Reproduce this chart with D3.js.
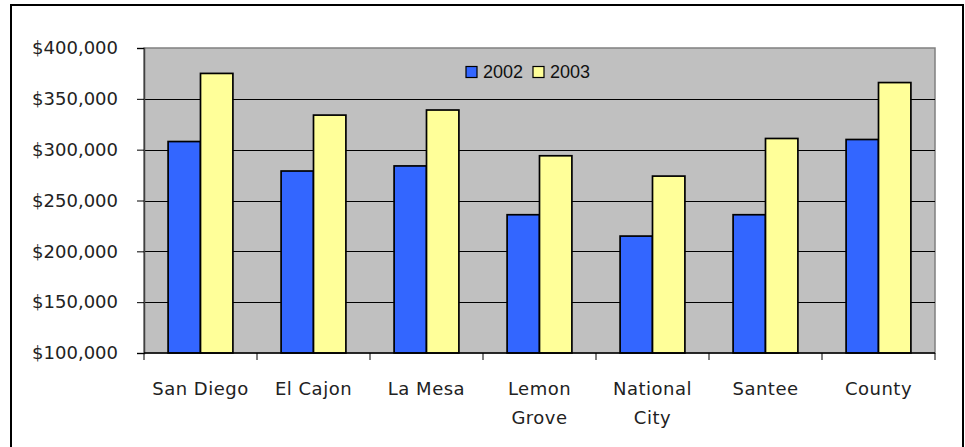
<!DOCTYPE html>
<html><head><meta charset="utf-8">
<script src="https://cdn.jsdelivr.net/npm/d3@7"></script>
<style>body{margin:0;background:#fff}svg{display:block}</style>
</head><body>
<svg id="c" width="965" height="447"></svg>
<script>
const categories = [["San Diego"],["El Cajon"],["La Mesa"],["Lemon","Grove"],["National","City"],["Santee"],["County"]];
const series = ["2002","2003"];
const values2002 = [308000,279000,284000,236000,215000,236000,310000];
const values2003 = [375000,334000,339000,294000,274000,311000,366000];
const yTicks = [100000,150000,200000,250000,300000,350000,400000];
const colors = ["#3366ff","#ffff99"];

const svg = d3.select("#c");
const L=144, R=935, T=48, B=353;
svg.append("rect").attr("x",11).attr("y",5).attr("width",952).attr("height",445)
  .attr("fill","#fff").attr("stroke","#000").attr("stroke-width",2);

const x = d3.scaleBand().domain(d3.range(categories.length)).range([L,R]).padding(0);
const y = d3.scaleLinear().domain([100000,400000]).range([B,T]);

svg.append("rect").attr("x",L).attr("y",T).attr("width",R-L).attr("height",B-T)
  .attr("fill","#c0c0c0").attr("stroke","#808080").attr("stroke-width",1.5);

svg.append("g").selectAll("line").data(yTicks.slice(1,-1)).join("line")
  .attr("x1",L).attr("x2",R).attr("y1",d=>Math.round(y(d))+0.5).attr("y2",d=>Math.round(y(d))+0.5)
  .attr("stroke","#000").attr("stroke-width",1);

const bw = 32.4;
const data = [values2002, values2003];
data.forEach((vals,si)=>{
  svg.append("g").selectAll("rect").data(vals).join("rect")
    .attr("x",(d,i)=>x(i)+x.bandwidth()/2 + (si-1)*bw)
    .attr("y",d=>y(d)).attr("width",bw).attr("height",d=>B-y(d))
    .attr("fill",colors[si]).attr("stroke","#000").attr("stroke-width",1.7);
});

// y axis
const ya = svg.append("g").attr("transform",`translate(${L},0)`)
  .call(d3.axisLeft(y).tickValues(yTicks).tickSize(7).tickPadding(19).tickFormat(d=>"$"+d3.format(",")(d)));
ya.select(".domain").attr("stroke","#404040").attr("stroke-width",1.5);
ya.selectAll(".tick line").attr("stroke","#000");
ya.selectAll("text").attr("font-family","DejaVu Sans").attr("font-size",18).attr("fill","#222");

// x axis
const xa = svg.append("g").attr("transform",`translate(0,${B})`);
xa.append("line").attr("x1",L).attr("x2",R).attr("y1",0).attr("y2",0).attr("stroke","#000").attr("stroke-width",1.5);
xa.selectAll("line.t").data(d3.range(categories.length+1)).join("line").attr("class","t")
  .attr("x1",i=>L+i*x.bandwidth()).attr("x2",i=>L+i*x.bandwidth()).attr("y1",0).attr("y2",7)
  .attr("stroke","#000");
const lab = xa.selectAll("text").data(categories).join("text")
  .attr("x",(d,i)=>x(i)+x.bandwidth()/2).attr("y",42)
  .attr("text-anchor","middle").attr("font-family","DejaVu Sans").attr("font-size",18)
  .attr("letter-spacing",0.5).attr("fill","#222");
lab.selectAll("tspan").data(d=>d).join("tspan")
  .attr("x",function(){return this.parentNode.getAttribute("x");})
  .attr("dy",(d,i)=>i?29:0).text(d=>d);

// legend
const lg = svg.append("g");
const lx = [466,533];
series.forEach((s,i)=>{
  lg.append("rect").attr("x",lx[i]).attr("y",66.5).attr("width",11).attr("height",11)
    .attr("fill",colors[i]).attr("stroke","#000").attr("stroke-width",1.2);
  lg.append("text").attr("x",lx[i]+17).attr("y",77.5).text(s)
    .attr("font-family","Liberation Sans, Arial").attr("font-size",18).attr("fill","#111");
});
</script>
</body></html>
